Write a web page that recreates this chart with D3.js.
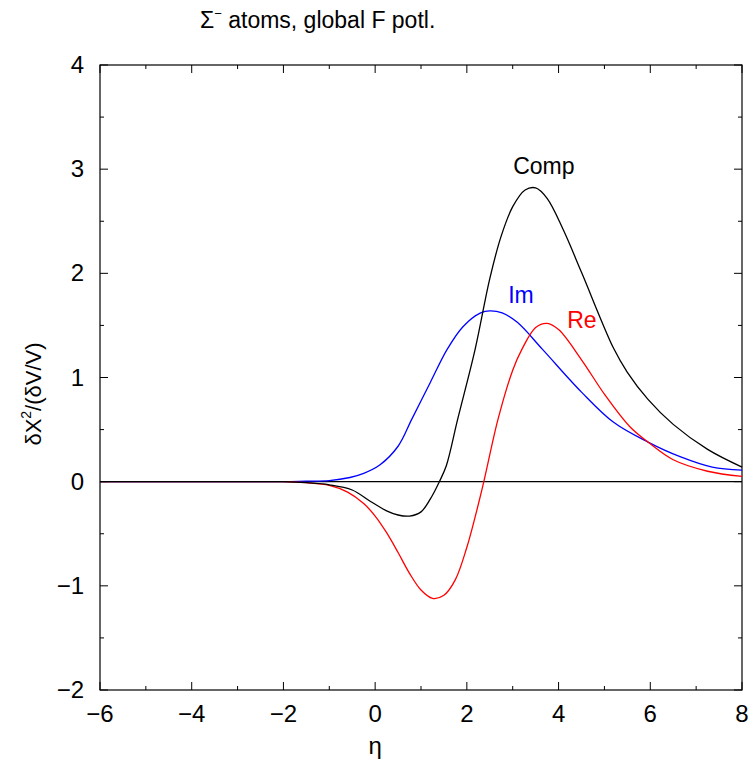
<!DOCTYPE html>
<html><head><meta charset="utf-8">
<script src="https://cdn.jsdelivr.net/npm/d3@7"></script>
<style>body{margin:0;background:#fff}svg{display:block}text{font-family:"Liberation Sans",Arial,sans-serif}</style>
</head><body><svg id="c" width="751" height="768"></svg>
<script>
const compX = [-6,-5,-4,-3,-2,-1.5,-1,-0.5,-0.1,0.25,0.5,0.75,1.0,1.25,1.4,1.55,1.8,2.18,2.5,2.75,3.0,3.27,3.5,3.75,4.1,4.5,5.2,5.5,5.95,6.5,7.25,8];
const compY = [0,0,0,0,0,-0.01,-0.03,-0.08,-0.19,-0.28,-0.32,-0.33,-0.29,-0.13,0,0.15,0.6,1.27,1.95,2.36,2.64,2.80,2.82,2.72,2.42,2.01,1.28,1.05,0.79,0.55,0.31,0.14];
const reX = [-6,-5,-4,-3,-2,-1.5,-1,-0.6,-0.25,0,0.25,0.5,0.75,1.0,1.25,1.5,1.75,2.0,2.22,2.37,2.68,3.0,3.2,3.5,3.75,4.0,4.5,5.0,5.55,5.95,6.5,7.25,8];
const reY = [0,0,0,0,0,-0.01,-0.035,-0.10,-0.21,-0.33,-0.49,-0.68,-0.88,-1.04,-1.12,-1.09,-0.94,-0.63,-0.27,0,0.6,1.07,1.27,1.48,1.52,1.46,1.17,0.84,0.53,0.38,0.21,0.10,0.05];
const imX = [-6,-5,-4,-3,-2,-1.5,-1,-0.55,-0.25,0.1,0.5,0.8,1.2,1.57,1.92,2.3,2.5,2.77,3.1,3.65,4.5,5.2,5.95,6.65,7.35,8];
const imY = [0,0,0,0,0,0.005,0.01,0.04,0.08,0.16,0.34,0.6,0.95,1.27,1.49,1.62,1.64,1.62,1.53,1.27,0.86,0.57,0.38,0.24,0.14,0.11];
const xTicks = [-6,-4,-2,0,2,4,6,8];
const yTicks = [-2,-1,0,1,2,3,4];
const labels = [{t:"Comp",x:3.68,y:2.95,c:"#000"},{t:"Im",x:3.18,y:1.72,c:"#0000ff"},{t:"Re",x:4.51,y:1.48,c:"#ff0000"}];

const svg = d3.select("#c");
const L=100,R=742,T=65,B=690;
const x = d3.scaleLinear().domain([-6,8]).range([L,R]);
const y = d3.scaleLinear().domain([-2,4]).range([B,T]);

const g = svg.append("g");
const xMinor = d3.range(-6,8.01,1), yMinor = d3.range(-2,4.01,0.5);
xMinor.forEach(v=>{
  const len = (v%2===0)?8:4;
  g.append("line").attr("x1",x(v)).attr("x2",x(v)).attr("y1",B).attr("y2",B-len).attr("stroke","#000");
  g.append("line").attr("x1",x(v)).attr("x2",x(v)).attr("y1",T).attr("y2",T+len).attr("stroke","#000");
});
yMinor.forEach(v=>{
  const len = (Number.isInteger(v))?8:4;
  g.append("line").attr("x1",L).attr("x2",L+len).attr("y1",y(v)).attr("y2",y(v)).attr("stroke","#000");
  g.append("line").attr("x1",R).attr("x2",R-len).attr("y1",y(v)).attr("y2",y(v)).attr("stroke","#000");
});
g.append("rect").attr("x",L).attr("y",T).attr("width",R-L).attr("height",B-T).attr("fill","none").attr("stroke","#000").attr("stroke-width",1.2);

const fmt = v => v<0 ? "\u2212"+Math.abs(v) : String(v);
xTicks.forEach(v=>g.append("text").attr("x",x(v)).attr("y",B+32).attr("text-anchor","middle").attr("font-size",24).text(fmt(v)));
yTicks.forEach(v=>g.append("text").attr("x",L-16).attr("y",y(v)+8).attr("text-anchor","end").attr("font-size",24).text(fmt(v)));

g.append("line").attr("x1",L).attr("x2",R).attr("y1",y(0)).attr("y2",y(0)).attr("stroke","#000").attr("stroke-width",1.2);

const line = d3.line().x(d=>x(d[0])).y(d=>y(d[1])).curve(d3.curveCatmullRom.alpha(0.5));
const series = [[imX,imY,"#0000ff"],[reX,reY,"#ff0000"],[compX,compY,"#000"]];
series.forEach(([xs,ys,c])=>{
  g.append("path").datum(xs.map((v,i)=>[v,ys[i]])).attr("d",line).attr("fill","none").attr("stroke",c).attr("stroke-width",1.3);
});

labels.forEach(l=>g.append("text").attr("x",x(l.x)).attr("y",y(l.y)).attr("text-anchor","middle").attr("font-size",23).attr("fill",l.c).text(l.t));

const tt = svg.append("text").attr("x",200).attr("y",28).attr("font-size",23);
tt.append("tspan").text("\u03A3");
tt.append("tspan").attr("dy",-10).attr("font-size",13).text("\u2212");
tt.append("tspan").attr("dy",10).text(" atoms, global F potl.");

svg.append("text").attr("x",x(0)).attr("y",754).attr("text-anchor","middle").attr("font-size",24).text("\u03B7");
const yl = svg.append("text").attr("transform","translate(41,394) rotate(-90)").attr("text-anchor","middle").attr("font-size",22);
yl.append("tspan").text("\u03B4X");
yl.append("tspan").attr("dy",-10).attr("font-size",14).text("2");
yl.append("tspan").attr("dy",10).text("/(\u03B4V/V)");
</script></body></html>
